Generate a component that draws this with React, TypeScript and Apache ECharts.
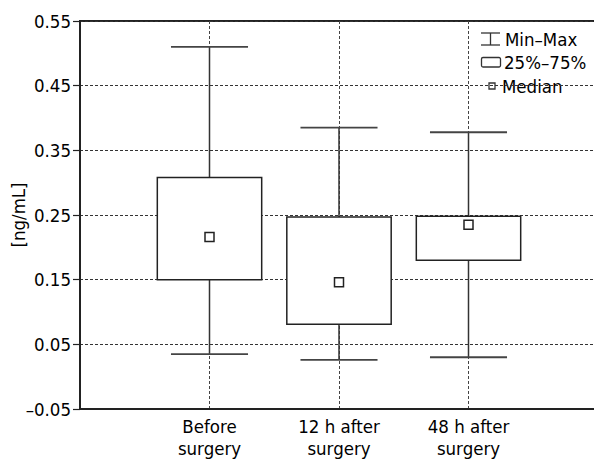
import React, { useEffect, useRef } from "react";
import * as echarts from "echarts";

const categories = ["Before\nsurgery", "12 h after\nsurgery", "48 h after\nsurgery"];
const minValues = [0.035, 0.026, 0.03];
const q1Values = [0.15, 0.081, 0.18];
const medianValues = [0.216, 0.146, 0.235];
const q3Values = [0.308, 0.247, 0.248];
const maxValues = [0.51, 0.385, 0.378];
const yMin = -0.05;
const yMax = 0.55;
const yStep = 0.1;
const legendLabels = ["Min\u2013Max", "25%\u201375%", "Median"];

const FONT = "'DejaVu Sans Condensed', 'Liberation Sans Narrow', 'DejaVu Sans', sans-serif";

export default function App() {
  const ref = useRef<HTMLDivElement>(null);
  useEffect(() => {
    document.body.style.margin = "0";
    if (!ref.current) return;
    const chart = echarts.init(ref.current, null, { renderer: "svg" });
    const data = categories.map((c, i) => [
      i + 1,
      minValues[i],
      q1Values[i],
      medianValues[i],
      q3Values[i],
      maxValues[i],
    ]);
    const ink = "#222";
    const txt = "#000";
    const option: any = {
      animation: false,
      backgroundColor: "#fff",
      textStyle: { fontFamily: FONT },
      grid: {
        left: 80,
        top: 21,
        right: -4,
        bottom: 55,
        containLabel: false,
        outerBoundsMode: "none",
        show: true,
        borderColor: ink,
        borderWidth: 2,
        backgroundColor: "transparent",
      },
      xAxis: {
        type: "value",
        min: 0,
        max: 4,
        interval: 1,
        axisLine: { show: true, onZero: false, lineStyle: { color: ink, width: 2 } },
        axisTick: { show: false },
        axisLabel: {
          margin: 6,
          fontSize: 18.5,
          lineHeight: 22,
          color: txt,
          fontFamily: FONT,
          formatter: (v: number) => {
            const i = Math.round(v) - 1;
            return i >= 0 && i < categories.length ? categories[i] : "";
          },
        },
        splitLine: { show: true, lineStyle: { color: "#444", width: 1, type: [3, 2] } },
      },
      yAxis: {
        type: "value",
        min: yMin,
        max: yMax,
        interval: yStep,
        name: "[ng/mL]",
        nameLocation: "middle",
        nameRotate: 90,
        nameGap: 52,
        nameMoveOverlap: false,
        nameTextStyle: { fontSize: 18.5, color: txt, fontFamily: FONT },
        axisLine: { show: true, onZero: false, lineStyle: { color: ink, width: 2 } },
        axisTick: { show: true, length: 7, lineStyle: { color: ink, width: 1.2 } },
        axisLabel: {
          margin: 9,
          fontSize: 18.5,
          color: txt,
          fontFamily: FONT,
          formatter: (v: number) => v.toFixed(2).replace("-", "\u2013"),
        },
        splitLine: { show: true, lineStyle: { color: "#333", width: 1, type: [3, 2] } },
      },
      series: [
        {
          type: "custom",
          clip: false,
          data,
          encode: { x: 0, y: [1, 2, 3, 4, 5] },
          renderItem: (params: any, api: any) => {
            const x = api.value(0);
            const pMin = api.coord([x, api.value(1)]);
            const pQ1 = api.coord([x, api.value(2)]);
            const pMed = api.coord([x, api.value(3)]);
            const pQ3 = api.coord([x, api.value(4)]);
            const pMax = api.coord([x, api.value(5)]);
            const cx = pMin[0];
            const boxW = api.size([0.806, 0])[0];
            const capW = api.size([0.595, 0])[0];
            const m = 9;
            return {
              type: "group",
              children: [
                {
                  type: "line",
                  shape: { x1: cx, y1: pMin[1], x2: cx, y2: pMax[1] },
                  style: { stroke: "#333", lineWidth: 1.5 },
                },
                {
                  type: "line",
                  shape: { x1: cx - capW / 2, y1: pMax[1], x2: cx + capW / 2, y2: pMax[1] },
                  style: { stroke: "#444", lineWidth: 1.8 },
                },
                {
                  type: "line",
                  shape: { x1: cx - capW / 2, y1: pMin[1], x2: cx + capW / 2, y2: pMin[1] },
                  style: { stroke: "#444", lineWidth: 1.8 },
                },
                {
                  type: "rect",
                  shape: { x: cx - boxW / 2, y: pQ3[1], width: boxW, height: pQ1[1] - pQ3[1] },
                  style: { fill: "#fff", stroke: ink, lineWidth: 1.5 },
                },
                {
                  type: "rect",
                  shape: { x: cx - m / 2, y: pMed[1] - m / 2, width: m, height: m },
                  style: { fill: "#fff", stroke: ink, lineWidth: 1.5 },
                },
              ],
            };
          },
        },
      ],
      graphic: [
        { type: "line", shape: { x1: 481, y1: 33, x2: 500, y2: 33 }, style: { stroke: "#333", lineWidth: 1.3 } },
        { type: "line", shape: { x1: 481, y1: 45, x2: 500, y2: 45 }, style: { stroke: "#333", lineWidth: 1.3 } },
        { type: "line", shape: { x1: 490.5, y1: 33, x2: 490.5, y2: 45 }, style: { stroke: "#333", lineWidth: 1.3 } },
        {
          type: "text",
          x: 505,
          y: 39,
          style: { text: legendLabels[0], fontSize: 18.5, fill: txt, fontFamily: FONT, verticalAlign: "middle" },
        },
        {
          type: "rect",
          shape: { x: 481.5, y: 57.5, width: 19, height: 9.5, r: 1.5 },
          style: { fill: "#fff", stroke: "#333", lineWidth: 1.3 },
        },
        {
          type: "text",
          x: 504,
          y: 62,
          style: { text: legendLabels[1], fontSize: 18.5, fill: txt, fontFamily: FONT, verticalAlign: "middle" },
        },
        {
          type: "rect",
          shape: { x: 489, y: 83, width: 6, height: 6 },
          style: { fill: "#fff", stroke: "#333", lineWidth: 1.3 },
        },
        {
          type: "text",
          x: 502,
          y: 86,
          style: { text: legendLabels[2], fontSize: 18.5, fill: txt, fontFamily: FONT, verticalAlign: "middle" },
        },
      ],
    };
    chart.setOption(option);
    return () => chart.dispose();
  }, []);
  return (
    <div
      ref={ref}
      style={{ position: "absolute", left: 0, top: 0, width: 594, height: 464, overflow: "hidden" }}
    />
  );
}
